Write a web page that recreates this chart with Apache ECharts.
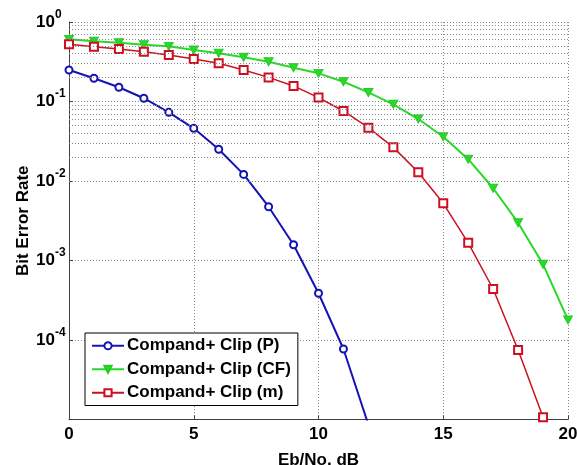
<!DOCTYPE html>
<html>
<head>
<meta charset="utf-8">
<script src="https://cdn.jsdelivr.net/npm/echarts@6/dist/echarts.min.js"></script>
<style>
  html, body { margin: 0; padding: 0; background: #fff; }
  #chart { width: 577px; height: 465px; }
</style>
</head>
<body>
<div id="chart"></div>
<script>
// Eb/No sweep in dB
const ebno = [0, 1, 2, 3, 4, 5, 6, 7, 8, 9, 10, 11, 12, 13, 14, 15, 16, 17, 18, 19, 20];

// Bit error rate per companding + clipping scheme
const berP  = [0.249, 0.196, 0.151, 0.110, 0.0731, 0.046, 0.0251, 0.0121, 0.00475, 0.00158, 3.87e-4, 7.7e-5, 8.6e-6];
const berCF = [0.605, 0.572, 0.550, 0.519, 0.494, 0.444, 0.404, 0.360, 0.317, 0.266, 0.226, 0.177, 0.130, 0.0922, 0.0602, 0.036, 0.0188, 0.0081, 0.00299, 8.95e-4, 1.79e-4];
const berM  = [0.524, 0.490, 0.457, 0.423, 0.385, 0.342, 0.302, 0.249, 0.201, 0.157, 0.112, 0.076, 0.0469, 0.0265, 0.0129, 0.00524, 0.00167, 4.38e-4, 7.48e-5, 1.07e-5];

const seriesNames = ['Compand+ Clip (P)', 'Compand+ Clip (CF)', 'Compand+ Clip (m)'];

// Log-axis minor grid: 2..9 within each decade
const decades = [1e-5, 1e-4, 1e-3, 1e-2, 1e-1];
const minorSteps = [2, 3, 4, 5, 6, 7, 8, 9];
const minorGrid = [];
decades.forEach(d => minorSteps.forEach(m => minorGrid.push(m * d)));

const FONT = '"Liberation Sans", Arial, sans-serif';
const gridDots = { color: '#8a8a8a', width: 1, type: [1, 2] };

const pairs = (ys) => ys.map((y, i) => [ebno[i], y]);

const chart = echarts.init(document.getElementById('chart'), null, { renderer: 'canvas' });
chart.setOption({
  animation: false,
  backgroundColor: '#fff',
  textStyle: { fontFamily: FONT },
  grid: { left: 69, right: 9, top: 22, bottom: 45.5, containLabel: false, outerBoundsMode: 'none' },
  xAxis: {
    type: 'value', min: 0, max: 20, interval: 5,
    name: 'Eb/No, dB', nameLocation: 'middle', nameGap: 32, nameMoveOverlap: false,
    nameTextStyle: { fontFamily: FONT, fontWeight: 'bold', fontSize: 17, color: '#000' },
    axisLine: { show: true, lineStyle: { color: '#404040', width: 1 } },
    axisTick: { show: true, inside: true, length: 4, lineStyle: { color: '#404040' } },
    axisLabel: { fontFamily: FONT, fontWeight: 'bold', fontSize: 17, color: '#000', margin: 6 },
    splitLine: { show: true, lineStyle: gridDots }
  },
  yAxis: {
    type: 'log', logBase: 10, min: 1e-5, max: 1,
    name: 'Bit Error Rate', nameLocation: 'middle', nameGap: 37, nameRotate: 90, nameMoveOverlap: false,
    nameTextStyle: { fontFamily: FONT, fontWeight: 'bold', fontSize: 17, color: '#000' },
    axisLine: { show: true, lineStyle: { color: '#404040', width: 1 } },
    axisTick: { show: true, inside: true, length: 4, lineStyle: { color: '#404040' } },
    axisLabel: {
      showMinLabel: false,
      align: 'left',
      margin: 33,
      formatter: function (v) {
        const e = Math.round(Math.log10(v));
        return '{b|10}{s|' + e + '}';
      },
      rich: {
        b: { fontFamily: FONT, fontWeight: 'bold', fontSize: 17, color: '#000' },
        s: { fontFamily: FONT, fontWeight: 'bold', fontSize: 12, color: '#000', padding: [0, 0, 15, 0] }
      }
    },
    splitLine: { show: true, lineStyle: gridDots }
  },
  legend: {
    data: seriesNames,
    orient: 'vertical',
    left: 85, top: 333,
    backgroundColor: '#fff',
    borderColor: '#000', borderWidth: 1,
    padding: [1, 7, 1, 6],
    itemGap: 0,
    itemWidth: 32, itemHeight: 9,
    textStyle: { fontFamily: FONT, fontWeight: 'bold', fontSize: 17, color: '#000', lineHeight: 23.5, padding: [0, 0, 0, -2] }
  },
  series: [
    {
      type: 'line', data: [], silent: true, z: 1,
      markLine: {
        silent: true, symbol: ['none', 'none'], label: { show: false },
        lineStyle: gridDots, animation: false,
        data: minorGrid.map(v => ({ yAxis: v }))
      }
    },
    {
      name: seriesNames[0], type: 'line', data: pairs(berP), z: 3,
      symbol: 'emptyCircle', symbolSize: 7,
      lineStyle: { color: '#1414b4', width: 2 },
      itemStyle: { color: '#1414b4', borderWidth: 1.5 }
    },
    {
      name: seriesNames[1], type: 'line', data: pairs(berCF), z: 3,
      symbol: 'triangle', symbolSize: [9, 8], symbolRotate: 180,
      lineStyle: { color: '#2ad82a', width: 2 },
      itemStyle: { color: '#2ad82a', borderColor: '#22cc22', borderWidth: 1 }
    },
    {
      name: seriesNames[2], type: 'line', data: pairs(berM), z: 3,
      symbol: 'emptyRect', symbolSize: 8,
      lineStyle: { color: '#cc1020', width: 1.5 },
      itemStyle: { color: '#cc1020', borderWidth: 1.5 }
    }
  ]
});
</script>
</body>
</html>
